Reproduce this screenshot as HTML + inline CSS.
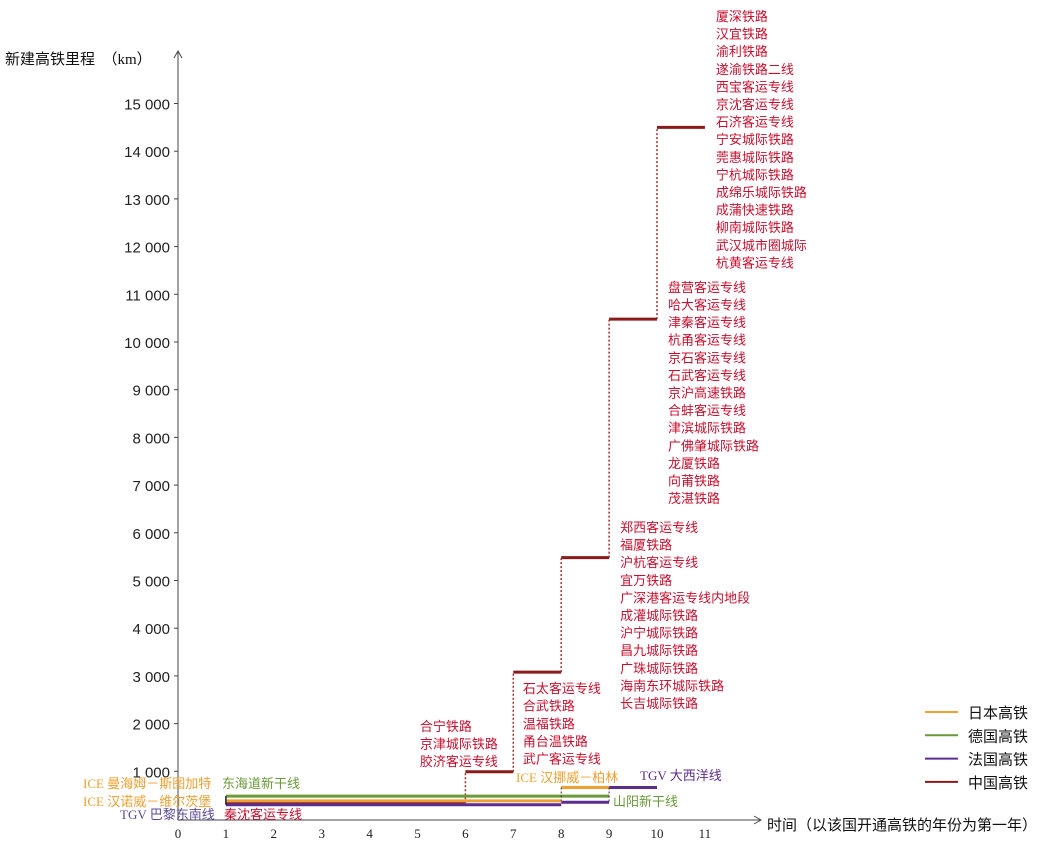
<!DOCTYPE html>
<html><head><meta charset="utf-8"><style>
body{margin:0;background:#fff;}
svg text{font-family:"Liberation Serif","Noto Sans CJK SC",serif;}
</style></head><body>
<svg id="c" width="1062" height="840" xmlns="http://www.w3.org/2000/svg"></svg>
<script>
const xTicks=[0,1,2,3,4,5,6,7,8,9,10,11];
const yTicks=[1000,2000,3000,4000,5000,6000,7000,8000,9000,10000,11000,12000,13000,14000,15000];
const yTickLabels=["1 000","2 000","3 000","4 000","5 000","6 000","7 000","8 000","9 000","10 000","11 000","12 000","13 000","14 000","15 000"];
const chinaStarts=[1,6,7,8,9,10];
const chinaValues=[330,990,3080,5480,10480,14500];
const japanStarts=[1,8];
const japanValues=[380,660];
const germanyStarts=[1];
const germanyValues=[480];
const franceStarts=[1,8,9];
const franceValues=[300,350,660];
const chinaLabelGroups=[
 {x:5.05,v:1845,items:["合宁铁路","京津城际铁路","胶济客运专线"]},
 {x:7.2,v:2640,items:["石太客运专线","合武铁路","温福铁路","甬台温铁路","武广客运专线"]},
 {x:9.23,v:6017,items:["郑西客运专线","福厦铁路","沪杭客运专线","宜万铁路","广深港客运专线内地段","成灌城际铁路","沪宁城际铁路","昌九城际铁路","广珠城际铁路","海南东环城际铁路","长吉城际铁路"]},
 {x:10.23,v:11050,items:["盘营客运专线","哈大客运专线","津秦客运专线","杭甬客运专线","京石客运专线","石武客运专线","京沪高速铁路","合蚌客运专线","津滨城际铁路","广佛肇城际铁路","龙厦铁路","向莆铁路","茂湛铁路"]},
 {x:11.23,v:16730,items:["厦深铁路","汉宜铁路","渝利铁路","遂渝铁路二线","西宝客运专线","京沈客运专线","石济客运专线","宁安城际铁路","莞惠城际铁路","宁杭城际铁路","成绵乐城际铁路","成蒲快速铁路","柳南城际铁路","武汉城市圈城际","杭黄客运专线"]}
];
const svg=document.getElementById('c');const NS='http://www.w3.org/2000/svg';
const X=v=>178+v*47.9; const Y=v=>819-v*0.0477;
function el(t,a,name){const e=document.createElementNS(NS,t);for(const k in a)e.setAttribute(k,a[k]);


svg.appendChild(e);return e;}
function txt(x,y,s,a,name){const e=el('text',Object.assign({x:x,y:y},a),name);e.textContent=s;return e;}
el('line',{x1:178,y1:820,x2:760,y2:820,stroke:'#444','stroke-width':1},'x-axis');
el('path',{d:'M754,816 L761,820 L754,824',fill:'none',stroke:'#444'},'x-axis-arrow');
el('line',{x1:178,y1:820,x2:178,y2:52,stroke:'#444','stroke-width':1},'y-axis');
el('path',{d:'M174,58 L178,51 L182,58',fill:'none',stroke:'#444'},'y-axis-arrow');
xTicks.forEach(t=>{txt(X(t),838,String(t),{'font-size':13,'text-anchor':'middle',fill:'#222'},'x-tick-label');});
yTicks.forEach((t,i)=>{el('line',{x1:174,y1:Y(t),x2:178,y2:Y(t),stroke:'#444'},'y-tick');
txt(170,Y(t)+6,yTickLabels[i],{'font-size':15,'text-anchor':'end',fill:'#222',style:'font-family:"Liberation Sans",sans-serif'},'y-tick-label');});
txt(5,64,'新建高铁里程　（km）',{'font-size':15,fill:'#111'},'y-axis-title');
txt(767,830,'时间（以该国开通高铁的年份为第一年）',{'font-size':15,fill:'#111'},'x-axis-title');
function steps(starts,vals,end,color,name,w,dash){
 starts.forEach((s,i)=>{const e2=i<starts.length-1?starts[i+1]:end;
  el('line',{x1:X(s),y1:Y(vals[i]),x2:X(e2),y2:Y(vals[i]),stroke:color,'stroke-width':w},name+'-step');
  if(i>0&&dash)el('line',{x1:X(s),y1:Y(vals[i-1]),x2:X(s),y2:Y(vals[i]),stroke:dash,'stroke-width':1.5,'stroke-dasharray':'2,2'},name+'-riser');});
}
steps(chinaStarts,chinaValues,11,'#8b1a1a','china',3,'#a03030');
steps(franceStarts,franceValues,10,'#5c2d91','france',3,null);
steps(germanyStarts,germanyValues,9,'#6a9a3a','germany',3,null);
steps(japanStarts,japanValues,9,'#f0a030','japan',3,null);
el('line',{x1:X(8),y1:Y(japanValues[1]),x2:X(8),y2:Y(japanValues[0]),stroke:'#333','stroke-dasharray':'2,2'},'japan-riser');
el('line',{x1:X(9),y1:Y(franceValues[2]),x2:X(9),y2:Y(franceValues[1]),stroke:'#333','stroke-dasharray':'2,2'},'france-riser');
el('line',{x1:X(1),y1:Y(germanyValues[0]),x2:X(1),y2:Y(franceValues[0]),stroke:'#222','stroke-width':1.5},'start-mark');
chinaLabelGroups.forEach(g=>{g.items.forEach((s,i)=>{txt(X(g.x),Y(g.v)+i*17.6,s,{'font-size':13,fill:'#c8102e'},'china-line-label');});});
txt(83,788,'ICE 曼海姆－斯图加特',{'font-size':13,fill:'#f0a030'},'ice-mannheim-label');
txt(222,788,'东海道新干线',{'font-size':13,fill:'#6a9a3a'},'tokaido-label');
txt(83,806,'ICE 汉诺威－维尔茨堡',{'font-size':13,fill:'#f0a030'},'ice-label');
txt(120,819,'TGV 巴黎东南线',{'font-size':13,fill:'#5c4a9a'},'tgv-label');
txt(224,819,'秦沈客运专线',{'font-size':13,fill:'#c8102e'},'qinshen-label');
txt(516,782,'ICE 汉挪威－柏林',{'font-size':13,fill:'#f0a030'},'ice2-label');
txt(640,780,'TGV 大西洋线',{'font-size':13,fill:'#5c2d91'},'tgv2-label');
txt(613,806,'山阳新干线',{'font-size':13,fill:'#6a9a3a'},'sanyo-label');
const legNames=['日本高铁','德国高铁','法国高铁','中国高铁'];const legCols=['#f0a030','#6a9a3a','#5c2d91','#8b1a1a'];
legNames.forEach((n,i)=>{const y=712+i*23.3;el('line',{x1:925,y1:y,x2:958,y2:y,stroke:legCols[i],'stroke-width':2},'legend-swatch');
txt(968,y+6,n,{'font-size':15,fill:'#111'},'legend-entry');});
</script>
</body></html>
